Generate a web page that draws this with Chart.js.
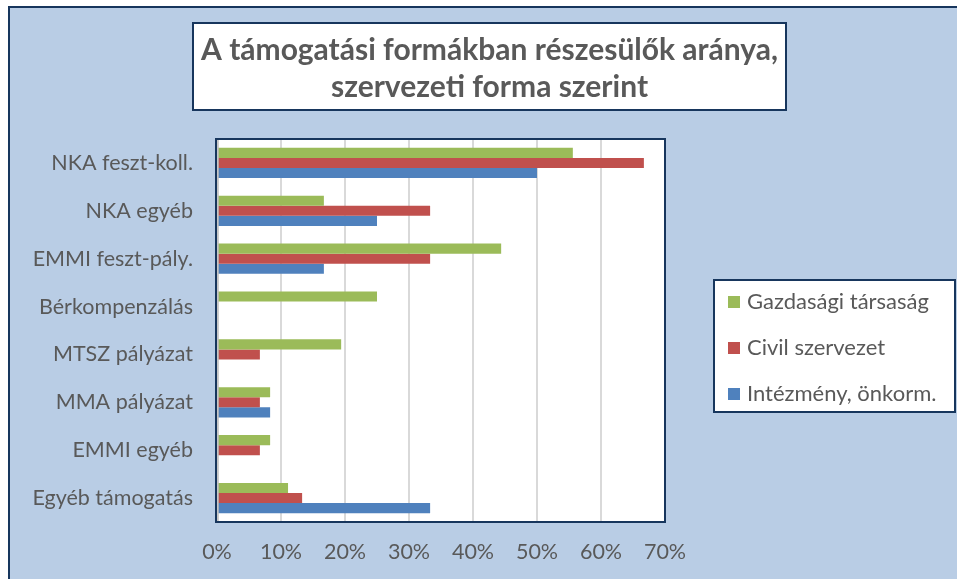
<!DOCTYPE html>
<html><head><meta charset="utf-8">
<script src="https://cdn.jsdelivr.net/npm/chart.js@4"></script>
<style>html,body{margin:0;padding:0;background:#fff;}#wrap{width:957px;height:579px;position:relative;}</style>
</head><body>
<div id="wrap"><canvas id="c" width="957" height="579"></canvas></div>
<script>
const categories = ["NKA feszt-koll.", "NKA egyéb", "EMMI feszt-pály.", "Bérkompenzálás", "MTSZ pályázat", "MMA pályázat", "EMMI egyéb", "Egyéb támogatás"];
const seriesNames = ["Gazdasági társaság", "Civil szervezet", "Intézmény, önkorm."];
const gazdasagi = [55.6, 16.7, 44.4, 25.0, 19.4, 8.3, 8.3, 11.1];
const civil = [66.7, 33.3, 33.3, 0, 6.7, 6.7, 6.7, 13.3];
const intezmeny = [50.0, 25.0, 16.7, 0, 0, 8.3, 0, 33.3];
const xTicks = [0, 10, 20, 30, 40, 50, 60, 70];
const titleLines = ["A támogatási formákban részesülők aránya,", "szervezeti forma szerint"];

const colors = ["#9BBB59", "#C0504D", "#4F81BD"];
const FONT = "Lato, 'Open Sans', sans-serif";
const TXT = "#595959";
const DARK = "#17365D";

const decor = {
  id: 'decor',
  beforeDraw(chart) {
    const ctx = chart.ctx, a = chart.chartArea;
    ctx.save();
    ctx.fillStyle = "#fff";
    ctx.fillRect(0, 0, chart.width, chart.height);
    ctx.fillStyle = "#B9CDE5";
    ctx.fillRect(9, 7, chart.width + 10, chart.height + 10);
    ctx.strokeStyle = DARK; ctx.lineWidth = 2;
    ctx.strokeRect(9, 7, chart.width + 10, chart.height + 10);
    // title box
    ctx.fillStyle = "#fff";
    ctx.fillRect(193, 23, 593, 87);
    ctx.strokeStyle = DARK; ctx.lineWidth = 2;
    ctx.strokeRect(193, 23, 593, 87);
    ctx.fillStyle = TXT;
    ctx.textAlign = "center"; ctx.textBaseline = "middle";
    ctx.font = "bold 30px " + FONT;
    ctx.fillText(titleLines[0], 489.5, 50);
    ctx.fillText(titleLines[1], 489.5, 87);
    // plot area
    ctx.fillStyle = "#fff";
    ctx.fillRect(a.left, a.top, a.right - a.left, a.bottom - a.top);
    ctx.restore();
  },
  afterDraw(chart) {
    const ctx = chart.ctx, a = chart.chartArea;
    ctx.save();
    ctx.strokeStyle = DARK; ctx.lineWidth = 2;
    ctx.strokeRect(a.left - 1, a.top, a.right - a.left + 1, a.bottom - a.top);
    ctx.strokeStyle = "#BFBFBF"; ctx.lineWidth = 1.5;
    ctx.beginPath(); ctx.moveTo(a.left + 1, a.top + 1); ctx.lineTo(a.left + 1, a.bottom - 1); ctx.stroke();
    // legend
    const lx = 714, ly = 280, lw = 241, lh = 132;
    ctx.fillStyle = "#fff"; ctx.fillRect(lx, ly, lw, lh);
    ctx.strokeStyle = DARK; ctx.lineWidth = 2; ctx.strokeRect(lx, ly, lw, lh);
    ctx.font = "22px " + FONT; ctx.textAlign = "left"; ctx.textBaseline = "middle";
    chart.data.datasets.forEach((ds, i) => {
      const cy = 302 + i * 46;
      ctx.fillStyle = ds.backgroundColor;
      ctx.fillRect(728, cy - 6, 12, 12);
      ctx.fillStyle = TXT;
      ctx.fillText(ds.label, 747, cy);
    });
    ctx.restore();
  }
};

new Chart(document.getElementById('c'), {
  type: 'bar',
  data: {
    labels: categories,
    datasets: [
      { label: seriesNames[0], data: gazdasagi, backgroundColor: colors[0] },
      { label: seriesNames[1], data: civil, backgroundColor: colors[1] },
      { label: seriesNames[2], data: intezmeny, backgroundColor: colors[2] }
    ]
  },
  options: {
    indexAxis: 'y',
    responsive: false,
    animation: false,
    devicePixelRatio: 1,
    layout: { padding: { left: 0, top: 139, right: 292, bottom: 0 } },
    datasets: { bar: { categoryPercentage: 0.63, barPercentage: 1.0, borderWidth: 0 } },
    plugins: { legend: { display: false }, title: { display: false }, tooltip: { enabled: false } },
    scales: {
      x: {
        min: 0, max: 70,
        afterBuildTicks(scale) { scale.ticks = xTicks.map(v => ({ value: v })); },
        afterFit(scale) { scale.height = 57; },
        ticks: { callback: v => v + '%', color: TXT, font: { family: FONT, size: 21.5 }, padding: 17, maxRotation: 0 },
        grid: { color: "#D9D9D9", lineWidth: 2, drawTicks: false },
        border: { display: false }
      },
      y: {
        afterFit(scale) { scale.width = 217; },
        ticks: { color: TXT, font: { family: FONT, size: 21.5 }, padding: 24 },
        grid: { display: false, drawTicks: false },
        border: { display: false }
      }
    }
  },
  plugins: [decor]
});
</script>
</body></html>
